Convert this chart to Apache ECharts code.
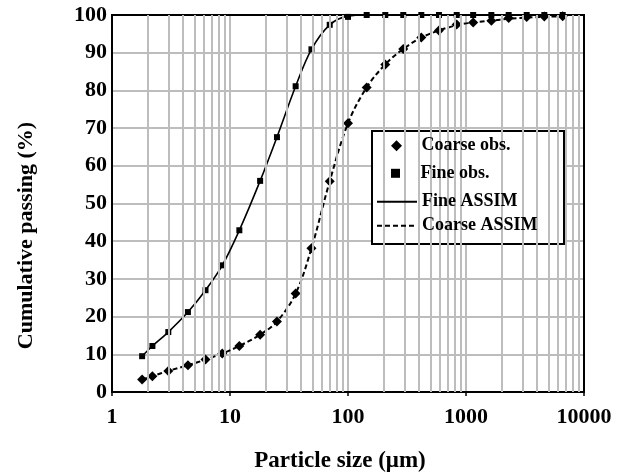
<!DOCTYPE html>
<html>
<head>
<meta charset="utf-8">
<script src="https://cdn.jsdelivr.net/npm/echarts@6/dist/echarts.min.js"></script>
<style>
html,body{margin:0;padding:0;background:#fff;}
#chart{width:621px;height:472px;}
</style>
</head>
<body>
<div id="chart"></div>
<script>
// Sieve sizes (µm), shared by both samples
const sizes = [1.8, 2.2, 3.0, 4.4, 6.2, 8.6, 12, 18, 25, 36, 49, 70, 100, 144, 207, 294, 418, 590, 834, 1150, 1640, 2300, 3270, 4610, 6600];
// Observed cumulative passing (%)
const coarseObs = [3.3, 4.2, 5.6, 7.1, 8.6, 10.2, 12.2, 15.2, 18.7, 26.1, 38.1, 55.9, 71.3, 80.8, 86.9, 91.0, 94.0, 95.9, 97.5, 98.0, 98.5, 99.2, 99.5, 99.6, 99.7];
const fineObs   = [9.5, 12.2, 15.9, 21.2, 27.0, 33.6, 42.9, 56.0, 67.6, 81.1, 90.9, 97.4, 99.5, 100, 100, 100, 100, 100, 100, 100, 100, 100, 100, 100, 100];
// ASSIM model curves (%)
const fineModel   = [9.5, 12.2, 15.9, 21.2, 27.0, 33.6, 42.9, 56.0, 67.6, 81.1, 90.9, 97.4, 99.7, 100, 100, 100, 100, 100, 100, 100, 100, 100, 100, 100, 100];
const coarseModel = [3.3, 4.2, 5.6, 7.1, 8.6, 10.2, 12.2, 15.2, 18.7, 26.1, 38.1, 55.9, 71.3, 80.8, 86.9, 91.0, 94.0, 95.9, 97.3, 98.0, 98.5, 99.0, 99.3, 99.5, 99.7];
// Axis tick labels
const xTickLabels = ['1', '10', '100', '1000', '10000'];
const yTickLabels = ['0','10','20','30','40','50','60','70','80','90','100'];

// Minor log grid positions (2..9 of each decade)
const minorX = [];
for (let d = 1; d <= 1000; d *= 10) for (let k = 2; k <= 9; k++) minorX.push(k * d);

const pair = (xs, ys) => xs.map((x, i) => [x, ys[i]]);
const FF = 'Liberation Serif';
const GRAY = '#bdbdbd';

const chart = echarts.init(document.getElementById('chart'));
const legendText = {fontFamily: FF, fontWeight: 'bold', fontSize: 18, color: '#000'};
const mkLegend = (item, left, cy, w, h) => ({
  data: [item],
  left, top: cy - 9, itemWidth: w, itemHeight: h, padding: 0,
  selectedMode: false, textStyle: legendText, z: 10
});

chart.setOption({
  animation: false,
  backgroundColor: '#fff',
  grid: {left: 112, right: 37, top: 15, bottom: 80, containLabel: false, outerBoundsMode: 'none'},
  xAxis: {
    type: 'log', logBase: 10, min: 1, max: 10000,
    axisLine: {show: true, lineStyle: {color: '#000', width: 2}},
    axisTick: {show: true, length: 4, lineStyle: {color: '#000', width: 1.5}},
    axisLabel: {
      fontFamily: FF, fontWeight: 'bold', fontSize: 22, color: '#000', margin: 14,
      formatter: v => xTickLabels[Math.round(Math.log10(v))]
    },
    splitLine: {show: true, lineStyle: {color: GRAY, width: 2}},
    minorTick: {show: false},
    name: 'Particle size (\u03bcm)', nameLocation: 'middle', nameGap: 58,
    nameTextStyle: {fontFamily: FF, fontWeight: 'bold', fontSize: 23, color: '#000', padding: [0, 16, 0, 0]}
  },
  yAxis: {
    type: 'value', min: 0, max: 100, interval: 10,
    axisLine: {show: true, lineStyle: {color: '#000', width: 2}},
    axisTick: {show: false},
    axisLabel: {
      fontFamily: FF, fontWeight: 'bold', fontSize: 22, color: '#000', margin: 5,
      formatter: v => yTickLabels[Math.round(v / 10)]
    },
    splitLine: {show: true, lineStyle: {color: GRAY, width: 2}},
    name: 'Cumulative passing (%)', nameLocation: 'middle', nameRotate: 90, nameGap: 75,
    nameTextStyle: {fontFamily: FF, fontWeight: 'bold', fontSize: 22, color: '#000', padding: [0, 64, 0, 0]}
  },
  legend: [
    mkLegend({name: 'Coarse obs.', icon: 'path://M0,-1L1,0L0,1L-1,0Z'}, 391, 145.7, 40, 11),
    mkLegend({name: 'Fine obs.', icon: 'path://M0,0L1,0L1,1L0,1Z'}, 391, 173.3, 40, 9),
    mkLegend({name: 'Fine ASSIM', itemStyle: {opacity: 0}, lineStyle: {width: 2}}, 376, 201.7, 40, 14),
    mkLegend({name: 'Coarse ASSIM', itemStyle: {opacity: 0}, lineStyle: {width: 2}}, 376, 225.7, 40, 14)
  ],
  graphic: [
    {type: 'rect', z: 1, silent: true, shape: {x: 112, y: 15, width: 472, height: 377},
     style: {fill: 'none', stroke: '#000', lineWidth: 2}},
    {type: 'rect', z: 5, silent: true, shape: {x: 372, y: 131, width: 192, height: 113},
     style: {fill: '#fff', stroke: '#000', lineWidth: 2}}
  ],
  series: [
    {
      name: 'minor-grid', type: 'line', data: [], z: 0, silent: true,
      markLine: {
        silent: true, symbol: ['none', 'none'], label: {show: false},
        lineStyle: {color: GRAY, width: 2, type: 'solid'},
        emphasis: {disabled: true},
        data: minorX.map(v => ({xAxis: v}))
      }
    },
    {
      name: 'Fine ASSIM', type: 'line', data: pair(sizes, fineModel), z: 2,
      smooth: 0.35, symbol: 'none', itemStyle: {color: '#000'},
      lineStyle: {color: '#000', width: 1.6, type: 'solid'}
    },
    {
      name: 'Coarse ASSIM', type: 'line', data: pair(sizes, coarseModel), z: 2,
      smooth: 0.35, symbol: 'none', itemStyle: {color: '#000'},
      lineStyle: {color: '#000', width: 2, type: [5, 3]}
    },
    {
      name: 'Coarse obs.', type: 'scatter', data: pair(sizes, coarseObs), z: 3,
      symbol: 'diamond', symbolSize: 10, itemStyle: {color: '#000', opacity: 1}
    },
    {
      name: 'Fine obs.', type: 'scatter', data: pair(sizes, fineObs), z: 3,
      symbol: 'rect', symbolSize: 6, itemStyle: {color: '#000', opacity: 1}
    }
  ]
});
</script>
</body>
</html>
